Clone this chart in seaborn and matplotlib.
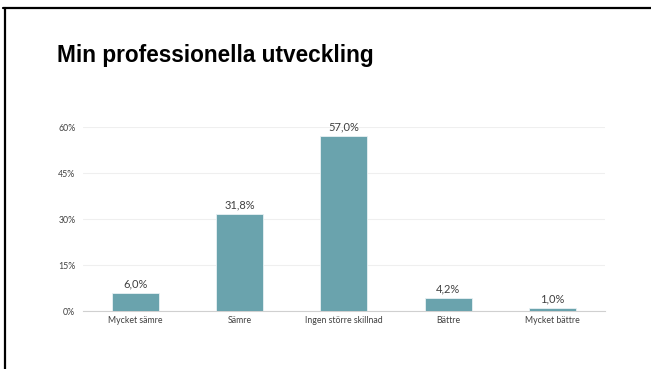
import matplotlib
matplotlib.use("Agg")
import matplotlib.pyplot as plt
from matplotlib.lines import Line2D
from matplotlib.ticker import FixedLocator, FuncFormatter
import seaborn as sns
import pandas as pd

# Survey answers and their shares (percent)
categories = ["Mycket sämre", "Sämre", "Ingen större skillnad", "Bättre", "Mycket bättre"]
shares = [6.0, 31.8, 57.0, 4.2, 1.0]
y_ticks = [0, 15, 30, 45, 60]

df = pd.DataFrame({"svar": categories, "andel": shares})

sns.set_theme(style="white")
plt.rcParams["font.family"] = ["Lato", "DejaVu Sans"]

fig = plt.figure(figsize=(6.51, 3.69), dpi=100)
ax = fig.add_axes([0.1275, 0.157, 0.8015, 0.4988])

bar_color = "#6aa3ad"
sns.barplot(data=df, x="svar", y="andel", color=bar_color, saturation=1,
            width=0.45, edgecolor="#e8f1f3", linewidth=0.6, ax=ax, zorder=3)

ax.set_ylim(0, 60)
ax.set_xlim(-0.5, 4.5)
ax.yaxis.set_major_locator(FixedLocator(y_ticks))
ax.yaxis.set_major_formatter(FuncFormatter(lambda v, _: f"{v:.0f}%"))
ax.grid(axis="y", color="#efefef", linewidth=0.8, zorder=0)
ax.set_axisbelow(True)

for side in ("top", "right", "left"):
    ax.spines[side].set_visible(False)
ax.spines["bottom"].set_color("#d0d0d0")
ax.spines["bottom"].set_linewidth(0.8)

ax.set_xlabel("")
ax.set_ylabel("")
ax.tick_params(axis="y", length=0, pad=5.5, labelsize=6.3, labelcolor="#404040")
ax.tick_params(axis="x", length=0, pad=3.5, labelsize=6.3, labelcolor="#404040")

for container in ax.containers:
    ax.bar_label(container, labels=[f"{v:.1f}".replace(".", ",") + "%" for v in shares],
                 padding=2.5, fontsize=8.0, color="#404040")

fig.text(0.087, 0.832, "Min professionella utveckling", fontsize=16.3,
         fontweight="bold", family=["Liberation Sans", "DejaVu Sans"], color="black")

# Slide frame along the top and left edges
fig.add_artist(Line2D([0.004, 1.0], [0.979, 0.979], transform=fig.transFigure,
                      color="black", linewidth=1.6))
fig.add_artist(Line2D([0.007, 0.007], [0.0, 0.979], transform=fig.transFigure,
                      color="black", linewidth=1.6))

fig.savefig("out.png", dpi=100, facecolor="white")
